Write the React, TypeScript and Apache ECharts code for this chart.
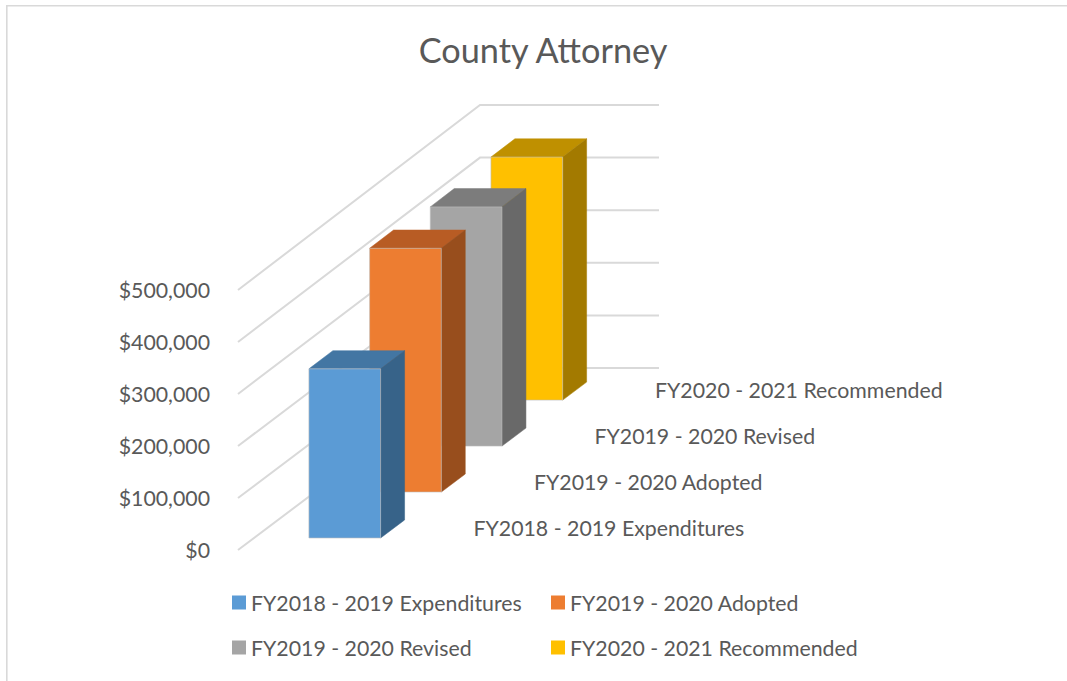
import React, { useEffect, useRef } from "react";
import * as echarts from "echarts";

const title = "County Attorney";
const categories = [
  "FY2018 - 2019 Expenditures",
  "FY2019 - 2020 Adopted",
  "FY2019 - 2020 Revised",
  "FY2020 - 2021 Recommended",
];
const values = [325000, 467000, 457000, 463000];
const ticks = [0, 100000, 200000, 300000, 400000, 500000];
const frontColors = ["#5B9BD5", "#ED7D31", "#A5A5A5", "#FFC000"];
const topColors = ["#4376A3", "#B85C24", "#7C7C7C", "#BF9000"];
const sideColors = ["#376389", "#984E1D", "#696969", "#A37A00"];

const FONT = "Lato, Carlito, sans-serif";
const TEXT = "#595959";
const GRIDLINE = "#D9D9D9";
const FONT_SIZE = 21.3;

// Oblique projection of the chart's depth axis.
const DEPTH_DX = 242;
const DEPTH_DY = 182;
const PERSPECTIVE = 0.0115;
const BAR_START = 0.066;
const BAR_STEP = 0.2525;
const BAR_DEPTH = 0.099;
const BAR_X0 = 0.307;
const BAR_X1 = 0.7076;
const BAR_SKEW = 0.0024;

const project = (api: any, x: number, v: number, d: number): number[] => {
  const p = api.coord([x, v]);
  const base = api.coord([x, 0])[1];
  const h = base - p[1];
  return [p[0] + DEPTH_DX * d, base - DEPTH_DY * d - h * (1 + PERSPECTIVE * d)];
};

const renderWall = (_: any, api: any) => {
  const v = api.value(1);
  return {
    type: "polyline",
    silent: true,
    shape: { points: [project(api, 0, v, 0), project(api, 0, v, 1), project(api, 1, v, 1)] },
    style: { fill: "none", stroke: GRIDLINE, lineWidth: 2 },
  };
};

const renderBar = (_: any, api: any) => {
  const i = api.value(0);
  const v = api.value(1);
  const d0 = BAR_START + BAR_STEP * i;
  const d1 = d0 + BAR_DEPTH;
  const x0 = BAR_X0 - BAR_SKEW * i;
  const x1 = BAR_X1 - BAR_SKEW * i;
  const a = project(api, x0, v, d0);
  const b = project(api, x1, v, d0);
  const c = project(api, x1, 0, d0);
  const e = project(api, x0, 0, d0);
  const f = project(api, x1, v, d1);
  const g = project(api, x0, v, d1);
  const h = project(api, x1, 0, d1);
  const edge = "rgba(190,190,190,0.6)";
  return {
    type: "group",
    children: [
      { type: "polygon", shape: { points: [a, b, f, g] }, style: { fill: topColors[i], stroke: topColors[i], lineWidth: 0.5 } },
      { type: "polygon", shape: { points: [b, f, h, c] }, style: { fill: sideColors[i], stroke: sideColors[i], lineWidth: 0.5 } },
      { type: "polygon", shape: { points: [a, b, c, e] }, style: { fill: frontColors[i], stroke: edge, lineWidth: 1 } },
    ],
  };
};

const renderDepthLabel = (_: any, api: any) => {
  const i = api.value(0);
  const d = BAR_START + BAR_STEP * i;
  const p = project(api, 1, 0, d);
  return {
    type: "text",
    silent: true,
    x: p[0] + 40.5 - i * 0.6,
    y: p[1] - 10,
    style: {
      text: categories[i],
      fill: TEXT,
      font: `${FONT_SIZE}px ${FONT}`,
      textAlign: "left",
      textVerticalAlign: "middle",
    },
  };
};

export default function App() {
  const ref = useRef<HTMLDivElement>(null);
  useEffect(() => {
    if (!ref.current) return;
    const chart = echarts.init(ref.current, undefined, { renderer: "svg" });
    chart.setOption({
      animation: false,
      backgroundColor: "#FFFFFF",
      title: {
        text: title,
        left: 538,
        top: 27,
        textAlign: "center",
        textStyle: { fontFamily: FONT, fontSize: 34.3, fontWeight: "normal", color: TEXT },
      },
      grid: { left: 238, top: 290, width: 179, height: 260 },
      xAxis: { type: "value", min: 0, max: 1, show: false },
      yAxis: {
        type: "value",
        min: 0,
        max: 500000,
        interval: 100000,
        axisLine: { show: false },
        axisTick: { show: false },
        splitLine: { show: false },
        axisLabel: {
          margin: 28,
          color: TEXT,
          fontFamily: FONT,
          fontSize: FONT_SIZE,
          padding: [2, 0, 0, 0],
          formatter: (v: number) => "$" + v.toLocaleString("en-US"),
        },
      },
      legend: [
        {
          data: [categories[0], categories[2]],
          orient: "vertical",
          left: 227,
          top: 587,
          itemWidth: 14,
          itemHeight: 14,
          itemGap: 24,
          icon: "rect",
          selectedMode: false,
          textStyle: { color: TEXT, fontFamily: FONT, fontSize: FONT_SIZE },
        },
        {
          data: [categories[1], categories[3]],
          orient: "vertical",
          left: 546,
          top: 587,
          itemWidth: 14,
          itemHeight: 14,
          itemGap: 24,
          icon: "rect",
          selectedMode: false,
          textStyle: { color: TEXT, fontFamily: FONT, fontSize: FONT_SIZE },
        },
      ],
      graphic: [
        { type: "line", silent: true, shape: { x1: 6, y1: 5.8, x2: 1067, y2: 5.8 }, style: { stroke: GRIDLINE, lineWidth: 1.6 } },
        { type: "line", silent: true, shape: { x1: 6.8, y1: 5, x2: 6.8, y2: 681 }, style: { stroke: GRIDLINE, lineWidth: 1.6 } },
      ],
      series: [
        {
          type: "custom",
          name: "walls",
          silent: true,
          z: 1,
          renderItem: renderWall,
          data: ticks.map((t) => [0, t]),
        },
        {
          type: "custom",
          name: "depth labels",
          silent: true,
          z: 20,
          renderItem: renderDepthLabel,
          data: categories.map((_, i) => [i, 0]),
        },
        ...categories.map((name, i) => ({
          type: "custom",
          name,
          z: 10 - i,
          itemStyle: { color: frontColors[i] },
          renderItem: renderBar,
          data: [[i, values[i]]],
        })),
      ],
    });
    return () => chart.dispose();
  }, []);
  return (
    <div
      ref={ref}
      style={{ position: "absolute", left: 0, top: 0, width: 1067, height: 681 }}
    />
  );
}
